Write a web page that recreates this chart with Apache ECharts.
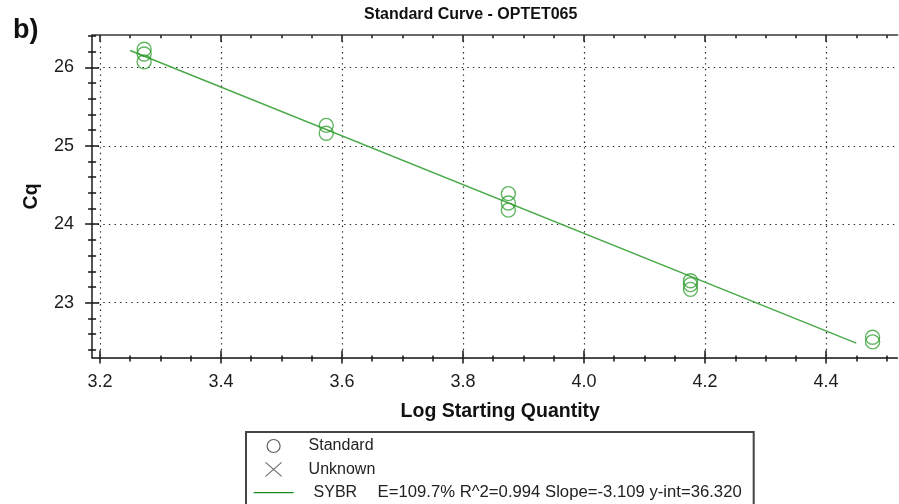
<!DOCTYPE html>
<html>
<head>
<meta charset="utf-8">
<script src="https://cdn.jsdelivr.net/npm/echarts@6/dist/echarts.min.js"></script>
<style>
  html, body { margin: 0; padding: 0; background: #fff; }
  #chart { width: 899px; height: 504px; }
</style>
</head>
<body>
<div id="chart"></div>
<script>
// Standard curve measurements: log starting quantity vs. Cq (replicates)
const logQuantity = [3.273, 3.273, 3.273, 3.574, 3.574, 3.875, 3.875, 3.875, 4.176, 4.176, 4.176, 4.477, 4.477];
const cqValues    = [26.23, 26.17, 26.07, 25.26, 25.16, 24.39, 24.27, 24.18, 23.28, 23.23, 23.17, 22.56, 22.50];

// Linear fit reported for the SYBR dye
const fitSlope = -3.109;
const fitIntercept = 36.320;
const fitEfficiency = 109.7;
const fitR2 = 0.994;
const fitXRange = [3.25, 4.45];

// Axis extents and tick steps
const xExtent = [3.187, 4.518];
const yExtent = [22.30, 26.41];
const xMajorTicks = [3.2, 4.4, 0.2];
const xMinorTicks = [3.2, 4.5, 0.05];
const yMajorTicks = [23, 26, 1];
const yMinorTicks = [22.4, 26.4, 0.2];

const titleText = 'Standard Curve - OPTET065';
const panelLabel = 'b)';
const xName = 'Log Starting Quantity';
const yName = 'Cq';
const seriesNames = ['Standard', 'Unknown', 'SYBR'];

// ---- layout ----
const FONT = '"Liberation Sans", Arial, Helvetica, sans-serif';
const plot = { left: 92.1, top: 35.2, right: 897.4, bottom: 357.6 };
const W = plot.right - plot.left, H = plot.bottom - plot.top;
const px = v => plot.left + (v - xExtent[0]) / (xExtent[1] - xExtent[0]) * W;
const py = v => plot.bottom - (v - yExtent[0]) / (yExtent[1] - yExtent[0]) * H;

const grids = [
  { left: plot.left, top: plot.top, width: W, height: H },                                   // data
  { left: px(xMajorTicks[0]), width: px(xMajorTicks[1]) - px(xMajorTicks[0]), top: plot.top, height: H }, // x major
  { left: px(xMinorTicks[0]), width: px(xMinorTicks[1]) - px(xMinorTicks[0]), top: plot.top, height: H }, // x minor
  { left: plot.left, width: W, top: py(yMajorTicks[1]), height: py(yMajorTicks[0]) - py(yMajorTicks[1]) }, // y major
  { left: plot.left, width: W, top: py(yMinorTicks[1]), height: py(yMinorTicks[0]) - py(yMinorTicks[1]) }  // y minor
];

const TICK = '#151515';
const dotted = { show: true, lineStyle: { color: '#222', width: 1.2, type: [1.4, 4.2] } };
const off = { show: false };

function tickAxis(grid, pos, range, len, inside, extra) {
  return Object.assign({
    type: 'value', gridIndex: grid, position: pos,
    min: range[0], max: range[1], interval: range[2],
    axisLine: { show: false, onZero: false },
    axisTick: { show: true, inside: inside, length: len, lineStyle: { color: TICK, width: 1.5 } },
    axisLabel: off, splitLine: off
  }, extra || {});
}
function hiddenAxis(grid) {
  return { type: 'value', gridIndex: grid, show: false, min: 0, max: 1, axisLine: { onZero: false } };
}

const tickLabel = { show: true, fontSize: 18, color: '#1c1c1c', fontFamily: FONT };

const xAxes = [
  { type: 'value', gridIndex: 0, position: 'bottom', min: xExtent[0], max: xExtent[1],
    axisLine: { show: true, onZero: false, lineStyle: { color: '#111', width: 1.6 } },
    axisTick: off, axisLabel: off, splitLine: off,
    name: xName, nameLocation: 'middle', nameGap: 44,
    nameTextStyle: { fontSize: 19.5, fontWeight: 'bold', color: '#111', fontFamily: FONT, padding: [0, 0, 0, 11] } },
  { type: 'value', gridIndex: 0, position: 'top', min: xExtent[0], max: xExtent[1],
    axisLine: { show: true, onZero: false, lineStyle: { color: '#6a6a6a', width: 2 } },
    axisTick: off, axisLabel: off, splitLine: off },
  tickAxis(1, 'bottom', xMajorTicks, 6, false, {
    axisLabel: Object.assign({ margin: 15, formatter: v => v.toFixed(1) }, tickLabel),
    splitLine: dotted }),
  tickAxis(1, 'bottom', xMajorTicks, 7, true),
  tickAxis(1, 'top', xMajorTicks, 6.5, true),
  tickAxis(2, 'bottom', xMinorTicks, 4, false),
  tickAxis(2, 'bottom', xMinorTicks, 2, true),
  tickAxis(2, 'top', xMinorTicks, 3, true),
  hiddenAxis(3),
  hiddenAxis(4)
];

const yAxes = [
  { type: 'value', gridIndex: 0, position: 'left', min: yExtent[0], max: yExtent[1],
    axisLine: { show: true, onZero: false, lineStyle: { color: '#2a2a2a', width: 1.6 } },
    axisTick: off, axisLabel: off, splitLine: off,
    name: yName, nameLocation: 'middle', nameGap: 50,
    nameTextStyle: { fontSize: 19.5, fontWeight: 'bold', color: '#111', fontFamily: FONT } },
  hiddenAxis(1),
  hiddenAxis(2),
  tickAxis(3, 'left', yMajorTicks, 7, false, {
    axisLabel: Object.assign({ margin: 18 }, tickLabel),
    splitLine: dotted }),
  tickAxis(3, 'left', yMajorTicks, 7, true),
  tickAxis(4, 'left', yMinorTicks, 4, false),
  tickAxis(4, 'left', yMinorTicks, 4, true)
];

const standardPoints = logQuantity.map((x, i) => [x, cqValues[i]]);
const fitLine = fitXRange.map(x => [x, fitIntercept + fitSlope * x]);
const fitText = 'E=' + fitEfficiency.toFixed(1) + '% R^2=' + fitR2.toFixed(3) +
  ' Slope=' + fitSlope.toFixed(3) + ' y-int=' + fitIntercept.toFixed(3);

// Legend glyphs: each path spans the full 40x14 icon box so the mark sits centred
const ICON_CIRCLE = 'path://M0,0M40,14M26.5,7A6.5,6.5,0,1,1,13.5,7A6.5,6.5,0,1,1,26.5,7Z';
const ICON_CROSS  = 'path://M0,0M40,14M12,0L28,14M28,0L12,14';
const ICON_LINE   = 'path://M0,0M40,14M0,6.3L40,6.3L40,7.7L0,7.7Z';

const chart = echarts.init(document.getElementById('chart'), null, { renderer: 'canvas' });
chart.setOption({
  animation: false,
  backgroundColor: '#fff',
  title: [
    { text: titleText, left: 364, top: 7, padding: 0,
      textStyle: { fontSize: 16, fontWeight: 'bold', color: '#111', fontFamily: FONT } },
    { text: panelLabel, left: 13, top: 17, padding: 0,
      textStyle: { fontSize: 27, fontWeight: 'bold', color: '#111', fontFamily: FONT } }
  ],
  grid: grids,
  xAxis: xAxes,
  yAxis: yAxes,
  legend: {
    orient: 'vertical', left: 246, top: 432, height: 100, padding: [5, 12, 12, 7],
    itemWidth: 40, itemHeight: 14, itemGap: 5.3,
    borderColor: '#444', borderWidth: 2, borderRadius: 0,
    selectedMode: false,
    textStyle: { fontSize: 16, color: '#222', fontFamily: FONT, lineHeight: 18,
      rich: {
        t: { fontSize: 16, color: '#222', fontFamily: FONT, padding: [0, 0, 0, 10], lineHeight: 18 },
        s: { fontSize: 16, color: '#222', fontFamily: FONT, padding: [0, 0, 0, 15], width: 64, lineHeight: 18 },
        e: { fontSize: 16.7, color: '#222', fontFamily: FONT, lineHeight: 18 }
      } },
    formatter: name => name === seriesNames[2] ? '{s|' + name + '}{e|' + fitText + '}' : '{t|' + name + '}',
    data: [
      { name: seriesNames[0], icon: ICON_CIRCLE,
        itemStyle: { color: 'rgba(0,0,0,0)', borderColor: '#333', borderWidth: 1.2 } },
      { name: seriesNames[1], icon: ICON_CROSS,
        itemStyle: { color: 'rgba(0,0,0,0)', borderColor: '#444', borderWidth: 1.1 } },
      { name: seriesNames[2], icon: ICON_LINE,
        itemStyle: { color: '#1f8a1f', borderWidth: 0 } }
    ]
  },
  series: [
    { name: seriesNames[2], type: 'line', xAxisIndex: 0, yAxisIndex: 0,
      data: fitLine, symbol: 'none', z: 2,
      lineStyle: { color: '#4aaa4a', width: 1.5 }, itemStyle: { color: '#1f8a1f' } },
    { name: seriesNames[0], type: 'scatter', xAxisIndex: 0, yAxisIndex: 0,
      data: standardPoints, symbol: 'circle', symbolSize: 14, z: 3,
      itemStyle: { color: 'rgba(0,0,0,0)', borderColor: 'rgba(36,152,36,0.9)', borderWidth: 1.4 } },
    { name: seriesNames[1], type: 'scatter', xAxisIndex: 0, yAxisIndex: 0,
      data: [], symbol: 'path://M0,0L14,14M14,0L0,14' }
  ]
});
</script>
</body>
</html>
